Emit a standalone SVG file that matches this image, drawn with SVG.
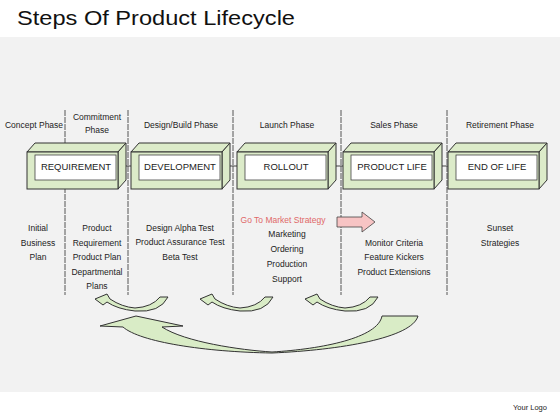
<svg xmlns="http://www.w3.org/2000/svg" width="560" height="420" viewBox="0 0 560 420">
<style>
.t{font-family:"Liberation Sans",Arial,sans-serif;fill:#222;text-anchor:middle}
.ph{font-size:8.5px}
.ls{font-size:8.5px}
.bl{font-size:9.5px}
.face{fill:#dcebc9;stroke:#333;stroke-width:1}
.inner{fill:#fff;stroke:#444;stroke-width:0.8}
.vl{stroke:#444;stroke-width:0.9;stroke-dasharray:6 1}
.conn{stroke:#444;stroke-width:1;fill:none}
.arr{fill:#d9ecc6;stroke:#333;stroke-width:1}
</style>
<rect x="0" y="0" width="560" height="420" fill="#fff"/>
<rect x="0" y="37" width="560" height="355" fill="#f2f2f2"/>
<text x="17" y="25" font-family="'Liberation Sans',Arial,sans-serif" font-size="21" fill="#111" textLength="278" lengthAdjust="spacingAndGlyphs">Steps Of Product Lifecycle</text>

<g id="dividers">
<line class="vl" x1="65" y1="110" x2="65" y2="295"/>
<line class="vl" x1="128" y1="110" x2="128" y2="295"/>
<line class="vl" x1="233" y1="110" x2="233" y2="295"/>
<line class="vl" x1="341" y1="110" x2="341" y2="295"/>
<line class="vl" x1="447" y1="110" x2="447" y2="295"/>
</g>

<g id="phases">
<text class="t ph" x="34" y="128">Concept Phase</text>
<text class="t ph" x="97" y="120">Commitment</text>
<text class="t ph" x="97" y="133">Phase</text>
<text class="t ph" x="181" y="128">Design/Build Phase</text>
<text class="t ph" x="287" y="128">Launch Phase</text>
<text class="t ph" x="394" y="128">Sales Phase</text>
<text class="t ph" x="500" y="128">Retirement Phase</text>
</g>

<g id="connectors">
<line class="conn" x1="117" y1="166" x2="131" y2="166"/>
<line class="conn" x1="222" y1="166" x2="237" y2="166"/>
<line class="conn" x1="327" y1="166" x2="343" y2="166"/>
<line class="conn" x1="433" y1="166" x2="448" y2="166"/>
</g>

<defs>
<g id="box">
<polygon class="face" points="0,9 8,0 99,0 91,9"/>
<polygon class="face" points="91,9 99,0 99,37 91,46"/>
<rect class="face" x="0" y="9" width="91" height="37"/>
<rect class="inner" x="8" y="12" width="81" height="25"/>
</g>
</defs>

<g id="requirement">
<use href="#box" x="27" y="143"/>
<text class="t bl" x="76" y="170">REQUIREMENT</text>
</g>
<g id="development">
<use href="#box" x="131" y="143"/>
<text class="t bl" x="180" y="170">DEVELOPMENT</text>
</g>
<g id="rollout">
<use href="#box" x="237" y="143"/>
<text class="t bl" x="286" y="170">ROLLOUT</text>
</g>
<g id="product-life">
<use href="#box" x="343" y="143"/>
<text class="t bl" x="392" y="170">PRODUCT LIFE</text>
</g>
<g id="end-of-life">
<use href="#box" x="448" y="143"/>
<text class="t bl" x="497" y="170">END OF LIFE</text>
</g>

<g id="lists">
<text class="t ls" x="38" y="231">Initial</text>
<text class="t ls" x="38" y="246">Business</text>
<text class="t ls" x="38" y="260">Plan</text>

<text class="t ls" x="97" y="231">Product</text>
<text class="t ls" x="97" y="246">Requirement</text>
<text class="t ls" x="97" y="260">Product Plan</text>
<text class="t ls" x="97" y="275">Departmental</text>
<text class="t ls" x="97" y="289">Plans</text>

<text class="t ls" x="180" y="231">Design Alpha Test</text>
<text class="t ls" x="180" y="245">Product Assurance Test</text>
<text class="t ls" x="180" y="260">Beta Test</text>

<text class="t ls" x="283" y="223" style="fill:#e06868">Go To Market Strategy</text>
<text class="t ls" x="287" y="237">Marketing</text>
<text class="t ls" x="287" y="252">Ordering</text>
<text class="t ls" x="287" y="267">Production</text>
<text class="t ls" x="287" y="282">Support</text>

<text class="t ls" x="394" y="246">Monitor Criteria</text>
<text class="t ls" x="394" y="260">Feature Kickers</text>
<text class="t ls" x="394" y="275">Product Extensions</text>

<text class="t ls" x="500" y="231">Sunset</text>
<text class="t ls" x="500" y="246">Strategies</text>
</g>

<g id="market-arrow">
<polygon points="337,217 362,217 362,212 375,222 362,232 362,227 337,227" fill="#f7c4c4" stroke="#444" stroke-width="0.8"/>
</g>

<g id="cycle-arrows">
<path class="arr" d="M168,297 Q160,313 135,311 Q117,309 107,302 L103,305 L95,299 L107,294 L110,299 Q122,307 135,308 Q152,307 160,297 Z"/>
<path class="arr" transform="translate(105,0)" d="M168,297 Q160,313 135,311 Q117,309 107,302 L103,305 L95,299 L107,294 L110,299 Q122,307 135,308 Q152,307 160,297 Z"/>
<path class="arr" transform="translate(210,0)" d="M168,297 Q160,313 135,311 Q117,309 107,302 L103,305 L95,299 L107,294 L110,299 Q122,307 135,308 Q152,307 160,297 Z"/>
<path class="arr" d="M418,316 C412,338 340,350 272,353 C205,352 140,342 123,327 L100,326 L136,316 L183,326 L162,327 C185,342 240,350 272,352 C322,349 378,338 382,316 Z"/>
</g>

<text x="530" y="410" font-family="'Liberation Sans',Arial,sans-serif" font-size="7.5" fill="#222" text-anchor="middle">Your Logo</text>
</svg>
